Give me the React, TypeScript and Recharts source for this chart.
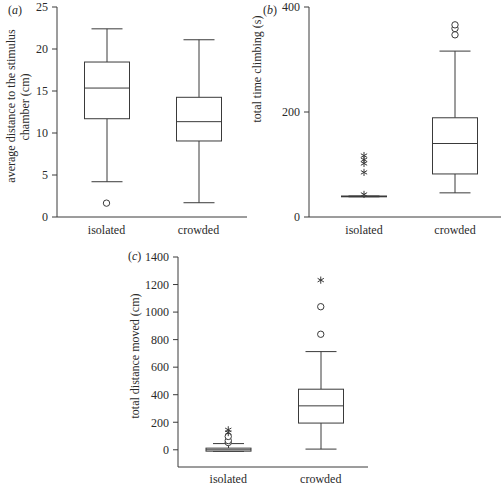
import React from 'react';
import { ComposedChart, Bar, Scatter, XAxis, YAxis } from 'recharts';

const categories = ['isolated', 'crowded'];

// (a) average distance to the stimulus chamber (cm)
const aWhiskerLow = [4.2, 1.7];
const aQ1 = [11.7, 9.05];
const aMedian = [15.35, 11.35];
const aQ3 = [18.45, 14.25];
const aWhiskerHigh = [22.4, 21.1];
const aCircles = [[1.65], []];
const aStars: number[][] = [[], []];
const aTicks = [0, 5, 10, 15, 20, 25];

// (b) total time climbing (s)
const bWhiskerLow = [38.5, 46];
const bQ1 = [38.5, 82];
const bMedian = [39, 140];
const bQ3 = [40, 189];
const bWhiskerHigh = [40, 316];
const bCircles = [[], [347, 359, 366]];
const bStars = [[43, 85, 102, 109, 117], []];
const bTicks = [0, 200, 400];

// (c) total distance moved (cm)
const cWhiskerLow = [-12, 5];
const cQ1 = [-10, 194];
const cMedian = [0, 319];
const cQ3 = [12, 440];
const cWhiskerHigh = [45, 713];
const cCircles = [[53, 67, 97], [839, 1039]];
const cStars = [[125, 145], [1232]];
const cTicks = [0, 200, 400, 600, 800, 1000, 1200, 1400];

const FONT = '"Liberation Serif", "DejaVu Serif", serif';
const INK = '#2a2a2a';
const LINE = '#3a3a3a';

type Row = { [k: string]: any };

function buildRows(lo: number[], q1: number[], med: number[], q3: number[], hi: number[], circles: number[][], stars: number[][]): Row[] {
  return categories.map((cat, i) => {
    const row: Row = { cat, box: [lo[i], hi[i]], lo: lo[i], q1: q1[i], med: med[i], q3: q3[i], hi: hi[i] };
    circles[i].forEach((v, j) => { row['c' + j] = v; });
    stars[i].forEach((v, j) => { row['s' + j] = v; });
    return row;
  });
}

const BoxShape = (props: any) => {
  const { x, y, width, height, payload } = props;
  if (x == null || y == null || !payload) return <g />;
  const top = Math.min(y, y + height);
  const h = Math.abs(height);
  const { hi, lo, q1, med, q3 } = payload;
  const toY = (v: number) => (hi === lo ? top : top + (h * (hi - v)) / (hi - lo));
  const cx = x + width / 2;
  const cap = 31;
  const yq3 = toY(q3);
  const yq1 = toY(q1);
  return (
    <g stroke={LINE} strokeWidth={1} fill="none">
      <line x1={cx} x2={cx} y1={toY(hi)} y2={yq3} />
      <line x1={cx} x2={cx} y1={yq1} y2={toY(lo)} />
      <line x1={cx - cap / 2} x2={cx + cap / 2} y1={toY(hi)} y2={toY(hi)} />
      <line x1={cx - cap / 2} x2={cx + cap / 2} y1={toY(lo)} y2={toY(lo)} />
      <rect x={x} y={yq3} width={width} height={Math.max(yq1 - yq3, 0.5)} fill="#fff" />
      <line x1={x} x2={x + width} y1={toY(med)} y2={toY(med)} />
    </g>
  );
};

const circleShape = (key: string) => (p: any) => {
  if (!p || !p.payload || p.payload[key] == null || p.cy == null || isNaN(p.cy)) return <g />;
  return <circle cx={p.cx} cy={p.cy} r={3.2} fill="#fff" stroke={LINE} strokeWidth={1} />;
};

const starShape = (key: string) => (p: any) => {
  if (!p || !p.payload || p.payload[key] == null || p.cy == null || isNaN(p.cy)) return <g />;
  const { cx, cy } = p;
  const r = 3.6;
  return (
    <g stroke={LINE} strokeWidth={1}>
      <line x1={cx} y1={cy - r} x2={cx} y2={cy + r} />
      <line x1={cx - r * 0.87} y1={cy - r * 0.5} x2={cx + r * 0.87} y2={cy + r * 0.5} />
      <line x1={cx - r * 0.87} y1={cy + r * 0.5} x2={cx + r * 0.87} y2={cy - r * 0.5} />
    </g>
  );
};

type PanelProps = {
  rows: Row[];
  nCircles: number;
  nStars: number;
  width: number;
  height: number;
  margin: { top: number; right: number; bottom: number; left: number };
  yWidth: number;
  xHeight: number;
  domain: [number, number];
  ticks: number[];
  pad: { left: number; right: number };
  xTickMargin: number;
};

const Panel = ({ rows, nCircles, nStars, width, height, margin, yWidth, xHeight, domain, ticks, pad, xTickMargin }: PanelProps) => {
  const tickStyle = { fill: INK, fontSize: 12, fontFamily: FONT };
  return (
    <ComposedChart width={width} height={height} data={rows} margin={margin}>
      <XAxis
        dataKey="cat"
        type="category"
        tickLine={false}
        axisLine={{ stroke: LINE }}
        tick={tickStyle}
        height={xHeight}
        padding={pad}
        tickMargin={xTickMargin}
        interval={0}
      />
      <YAxis
        type="number"
        domain={domain}
        ticks={ticks}
        allowDataOverflow
        interval={0}
        width={yWidth}
        tickSize={5}
        tickMargin={4}
        axisLine={{ stroke: LINE }}
        tickLine={{ stroke: LINE }}
        tick={tickStyle}
      />
      <Bar dataKey="box" barSize={45} shape={<BoxShape />} isAnimationActive={false} />
      {Array.from({ length: nCircles }).map((_, j) => (
        <Scatter key={'c' + j} dataKey={'c' + j} shape={circleShape('c' + j)} isAnimationActive={false} />
      ))}
      {Array.from({ length: nStars }).map((_, j) => (
        <Scatter key={'s' + j} dataKey={'s' + j} shape={starShape('s' + j)} isAnimationActive={false} />
      ))}
    </ComposedChart>
  );
};

const maxLen = (arr: number[][]) => Math.max(0, ...arr.map((a) => a.length));

export default function App() {
  const aRows = buildRows(aWhiskerLow, aQ1, aMedian, aQ3, aWhiskerHigh, aCircles, aStars);
  const bRows = buildRows(bWhiskerLow, bQ1, bMedian, bQ3, bWhiskerHigh, bCircles, bStars);
  const cRows = buildRows(cWhiskerLow, cQ1, cMedian, cQ3, cWhiskerHigh, cCircles, cStars);
  const titleStyle: React.CSSProperties = { fontFamily: FONT, fontSize: 12, fill: INK } as any;
  return (
    <div style={{ position: 'absolute', left: 0, top: 0, width: 501, height: 485, overflow: 'hidden', background: '#fff' }}>
      <div style={{ position: 'absolute', left: 0, top: 0 }}>
        <Panel rows={aRows} nCircles={maxLen(aCircles)} nStars={maxLen(aStars)} width={255} height={245}
          margin={{ top: 7, right: 8, bottom: 8, left: 0 }} yWidth={57} xHeight={20}
          domain={[0, 25]} ticks={aTicks} pad={{ left: 3.5, right: 2.5 }} xTickMargin={2} />
      </div>
      <div style={{ position: 'absolute', left: 250, top: 0 }}>
        <Panel rows={bRows} nCircles={maxLen(bCircles)} nStars={maxLen(bStars)} width={260} height={245}
          margin={{ top: 7, right: 0, bottom: 8, left: 0 }} yWidth={59} xHeight={20}
          domain={[0, 400]} ticks={bTicks} pad={{ left: 9.5, right: 9.5 }} xTickMargin={2} />
      </div>
      <div style={{ position: 'absolute', left: 90, top: 250 }}>
        <Panel rows={cRows} nCircles={maxLen(cCircles)} nStars={maxLen(cStars)} width={290} height={235}
          margin={{ top: 7, right: 12, bottom: 0, left: 0 }} yWidth={88} xHeight={18}
          domain={[-125, 1400]} ticks={cTicks} pad={{ left: 4, right: 1 }} xTickMargin={1} />
      </div>
      <svg width={501} height={485} style={{ position: 'absolute', left: 0, top: 0, pointerEvents: 'none' }}>
        <g style={titleStyle}>
          <text x={8} y={14}>(<tspan fontStyle="italic">a</tspan>)</text>
          <text x={15} y={106} textAnchor="middle" transform="rotate(-90 15 106)">average distance to the stimulus</text>
          <text x={29} y={107} textAnchor="middle" transform="rotate(-90 29 107)">chamber (cm)</text>
          <text x={263} y={14}>(<tspan fontStyle="italic">b</tspan>)</text>
          <text x={261} y={69} textAnchor="middle" transform="rotate(-90 261 69)">total time climbing (s)</text>
          <text x={128} y={260}>(<tspan fontStyle="italic">c</tspan>)</text>
          <text x={139} y={356} textAnchor="middle" transform="rotate(-90 139 356)">total distance moved (cm)</text>
        </g>
      </svg>
    </div>
  );
}
